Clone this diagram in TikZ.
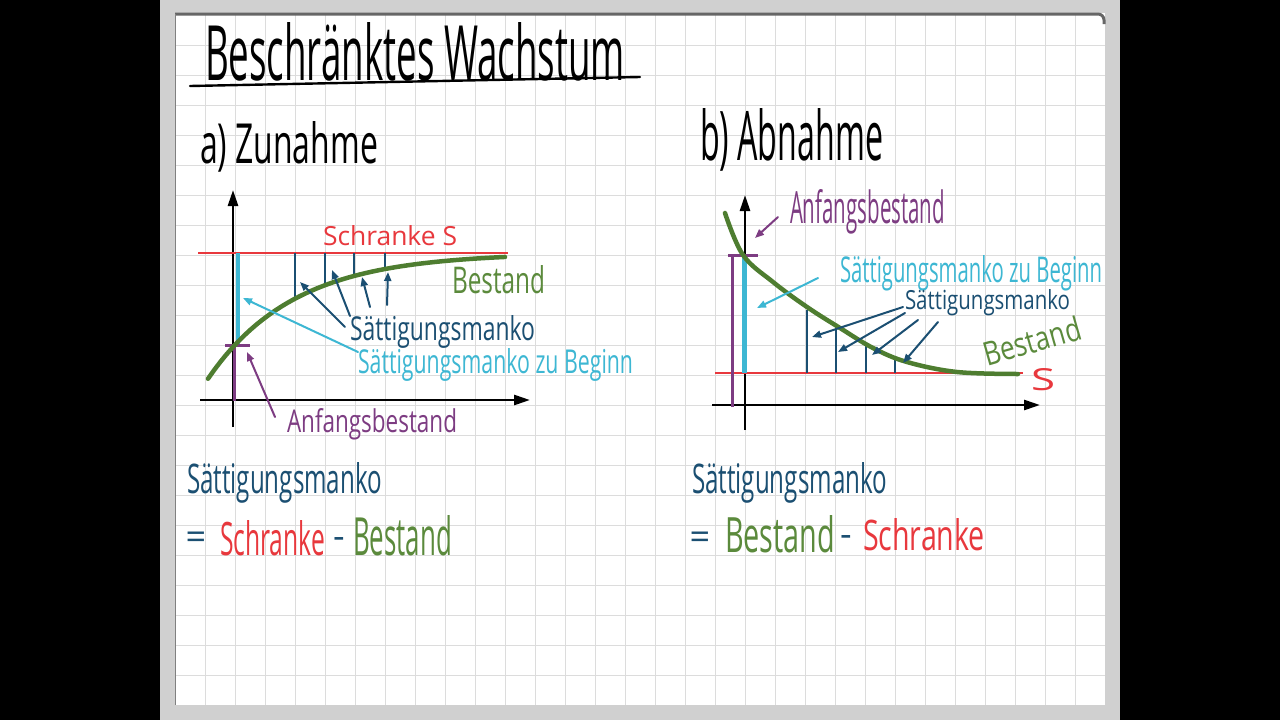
\documentclass[tikz,border=0pt]{standalone}
\usepackage{fontspec}
\setmainfont{Open Sans}
\usepackage{graphicx}
\usepackage{tikz}
\usetikzlibrary{arrows.meta}
\definecolor{frameGray}{HTML}{D0D0D0}
\definecolor{gridGray}{HTML}{DCDCDC}
\definecolor{shadowGray}{HTML}{666666}
\definecolor{redMark}{HTML}{E8383D}
\definecolor{greenCurve}{HTML}{4E7D30}
\definecolor{greenText}{HTML}{5B8A3C}
\definecolor{cyanMark}{HTML}{3DB7D3}
\definecolor{blueDark}{HTML}{1B4F72}
\definecolor{purpleMark}{HTML}{7D3C82}

\begin{document}
\begin{tikzpicture}[x=1pt,y=-1pt,
    hand/.style={inner sep=0pt, outer sep=0pt},
    gridLine/.style={gridGray, line width=1pt},
    axisLine/.style={black, line width=2.6pt, -{Triangle[length=16pt,width=10pt]}},
    boundLine/.style={redMark, line width=2pt},
    curveLine/.style={greenCurve, line width=4.5pt, line cap=round},
    mankoLine/.style={blueDark, line width=2pt},
    handArrow/.style={line width=2pt, line cap=round, -{Triangle[length=9pt,width=7pt]}},
    signText/.style={hand, text=blueDark, font=\fontsize{36}{36}\selectfont}
  ]

    \newcommand{\HandText}[7]{%
        \node[hand, text=#2, anchor=base west] (#1) at (#3,#4)
            {\resizebox{#5pt}{#6pt}{#7}};
    }

    \useasboundingbox (0,0) rectangle (1280,720);

    % paper
    \fill[black] (0,0) rectangle (1280,720);
    \fill[frameGray] (160,0) rectangle (1120,720);
    \fill[white] (175,13) rectangle (1105,705);
    \foreach \gx in {205,235,...,1075}
        \draw[gridLine] (\gx,13) -- (\gx,705);
    \foreach \gy in {45,75,...,675}
        \draw[gridLine] (175,\gy) -- (1105,\gy);
    \draw[shadowGray, line width=3pt, rounded corners=6pt] (175,14) -- (1104,14) -- (1104,24);
    \draw[gray, line width=1pt] (175.5,14) -- (175.5,705);

    % headings
    \HandText{title}{black}{205}{80}{420}{58}{Beschränktes Wachstum}
    \draw[black, line width=2.4pt, line cap=round] (190,86) -- (640,77);
    \HandText{partA}{black}{200}{163}{178}{42}{a) Zunahme}
    \HandText{partB}{black}{700}{160}{183}{52}{b) Abnahme}

    % a) Zunahme
    \draw[axisLine] (233,427) -- (233,190);
    \draw[axisLine] (200,400) -- (530,400);
    \draw[boundLine] (198,253) -- (508,253);
    \draw[cyanMark, line width=4.5pt] (238,253) -- (238,347);
    \draw[purpleMark, line width=3pt] (234,347) -- (234,401);
    \draw[purpleMark, line width=3pt] (225,345) -- (250,345);
    \foreach \vx in {295,325,354,385}
        \draw[mankoLine] (\vx,253) -- (\vx,{253+94*exp(-0.01165*(\vx-233))});
    \draw[curveLine] plot[domain=208:505, samples=50] (\x,{253+94*exp(-0.01165*(\x-233))});

    \foreach \sx/\sy/\ex/\ey [count=\i] in
        {345/327/300/282, 350/316/332/270, 370/307/362/277, 387/305/388/272} {
        \coordinate (mankoTailA\i) at (\sx,\sy);
        \coordinate (mankoTipA\i) at (\ex,\ey);
        \draw[handArrow, blueDark] (mankoTailA\i) -- (mankoTipA\i);
    }
    \coordinate (startTailA) at (358,352);
    \coordinate (startTipA) at (243,298);
    \draw[handArrow, cyanMark] (startTailA) -- (startTipA);
    \coordinate (anfangTailA) at (275,417);
    \coordinate (anfangTipA) at (247,352);
    \draw[handArrow, purpleMark] (anfangTailA) -- (anfangTipA);

    \HandText{schrankeA}{redMark}{323}{245}{134}{20}{Schranke S}
    \HandText{bestandA}{greenText}{452}{293}{93}{28}{Bestand}
    \HandText{mankoA}{blueDark}{350}{340}{185}{25}{Sättigungsmanko}
    \HandText{mankoStartA}{cyanMark}{358}{373}{275}{25}{Sättigungsmanko zu Beginn}
    \HandText{anfangA}{purpleMark}{287}{432}{170}{24}{Anfangsbestand}

    % b) Abnahme
    \draw[axisLine] (745,430) -- (745,195);
    \draw[axisLine] (712,405) -- (1040,405);
    \draw[boundLine] (715,373) -- (1023,373);
    \draw[purpleMark, line width=3pt] (732,255) -- (732,407);
    \draw[purpleMark, line width=3pt] (728,255) -- (758,255);
    \draw[cyanMark, line width=5pt] (744,256) -- (744,373);
    \foreach \vx/\vy in {807/310,836/327,866/344,895/357}
        \draw[mankoLine] (\vx,373) -- (\vx,\vy);
    \draw[curveLine] plot[smooth, tension=0.6] coordinates
        {(725,213) (743,255) (773,282) (807,307) (840,328) (873,348) (907,362) (957,372) (1018,374)};

    \coordinate (anfangTailB) at (778,217);
    \coordinate (anfangTipB) at (755,238);
    \draw[handArrow, purpleMark] (anfangTailB) -- (anfangTipB);
    \coordinate (startTailB) at (818,278);
    \coordinate (startTipB) at (757,308);
    \draw[handArrow, cyanMark] (startTailB) -- (startTipB);
    \foreach \sx/\sy/\ex/\ey [count=\i] in
        {903/307/812/337, 905/313/838/352, 918/320/872/355, 938/322/903/363} {
        \coordinate (mankoTailB\i) at (\sx,\sy);
        \coordinate (mankoTipB\i) at (\ex,\ey);
        \draw[handArrow, blueDark] (mankoTailB\i) -- (mankoTipB\i);
    }

    \HandText{anfangB}{purpleMark}{790}{223}{155}{34}{Anfangsbestand}
    \HandText{mankoStartB}{cyanMark}{840}{282}{262}{27}{Sättigungsmanko zu Beginn}
    \HandText{mankoB}{blueDark}{905}{309}{165}{20}{Sättigungsmanko}
    \node[hand, text=greenText, rotate=16] (bestandB) at (1032,341)
        {\resizebox{100pt}{25pt}{Bestand}};
    \HandText{schrankeB}{redMark}{1031}{390}{24}{22}{S}

    % formulas
    \HandText{mankoFormA}{blueDark}{187}{493}{195}{31}{Sättigungsmanko}
    \node[signText] (eqA) at (196,541) {=};
    \HandText{schrankeFormA}{redMark}{220}{555}{105}{35}{Schranke}
    \node[signText] (minusA) at (339,543) {-};
    \HandText{bestandFormA}{greenText}{353}{555}{99}{40}{Bestand}

    \HandText{mankoFormB}{blueDark}{692}{493}{195}{31}{Sättigungsmanko}
    \node[signText] (eqB) at (700,541) {=};
    \HandText{bestandFormB}{greenText}{725}{552}{110}{37}{Bestand}
    \node[signText] (minusB) at (846,541) {-};
    \HandText{schrankeFormB}{redMark}{863}{550}{122}{32}{Schranke}

\end{tikzpicture}
\end{document}
